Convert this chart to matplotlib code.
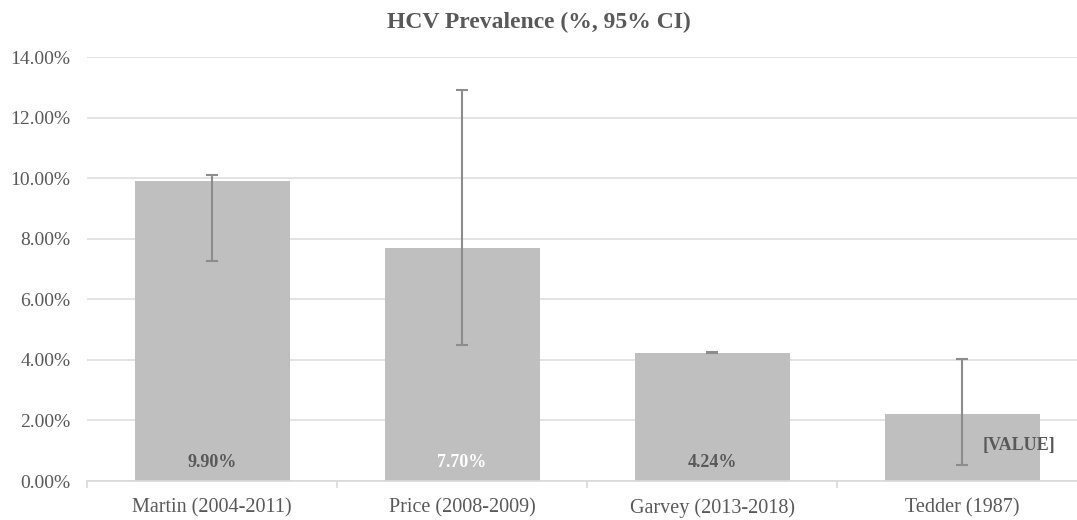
import matplotlib.pyplot as plt
import numpy as np

plt.rcParams['font.family'] = ['Liberation Serif', 'DejaVu Serif']

studies = ["Martin (2004-2011)", "Price (2008-2009)", "Garvey (2013-2018)", "Tedder (1987)"]
prevalence = [9.90, 7.70, 4.24, 2.20]
ci_low = [7.25, 4.50, 4.22, 0.52]
ci_high = [10.12, 12.90, 4.26, 4.02]
bar_labels = ["9.90%", "7.70%", "4.24%", "[VALUE]"]
label_colors = ["#595959", "#ffffff", "#595959", "#595959"]
yticks = [0, 2, 4, 6, 8, 10, 12, 14]

fig = plt.figure(figsize=(10.77, 5.2), dpi=100, facecolor='white')
ax = fig.add_axes([87 / 1077, 39 / 520, 1000 / 1077, 424 / 520])

x = np.arange(len(studies))
prev = np.array(prevalence)
yerr = [prev - np.array(ci_low), np.array(ci_high) - prev]

ax.bar(x, prev, width=0.62, color='#bfbfbf', zorder=2)
ax.errorbar(x, prev, yerr=yerr, fmt='none', ecolor='#8c8c8c', elinewidth=1.5,
            capsize=4.5, capthick=1.5, zorder=3)

for i, (lab, col) in enumerate(zip(bar_labels, label_colors)):
    if lab == "[VALUE]":
        ax.text(i + 0.23, 1.16, lab, ha='center', va='center', color=col,
                fontsize=13, fontweight='bold', zorder=4)
    else:
        ax.text(i, 0.62, lab, ha='center', va='center', color=col,
                fontsize=13, fontweight='bold', zorder=4)

ax.set_xlim(-0.5, len(studies) - 0.5)
ax.set_ylim(0, 14)
ax.set_yticks(yticks)
ax.set_yticklabels([f"{v:.2f}%" for v in yticks])
ax.set_xticks(x)
ax.set_xticklabels(studies)
ax.set_xticks(np.arange(len(studies) + 1) - 0.5, minor=True)

ax.yaxis.grid(True, color='#dedede', linewidth=1.2, zorder=0)
ax.set_axisbelow(True)
for s in ['top', 'right', 'left']:
    ax.spines[s].set_visible(False)
ax.spines['bottom'].set_color('#d9d9d9')
ax.spines['bottom'].set_linewidth(1.2)

ax.tick_params(axis='y', length=0, pad=12, labelsize=14, labelcolor='#595959')
ax.tick_params(axis='x', which='major', length=0, pad=12.5, labelsize=14.5, labelcolor='#595959')
ax.tick_params(axis='x', which='minor', length=5, color='#d9d9d9', width=1.2)

fig.text(0.5, 1 - 22 / 520, "HCV Prevalence (%, 95% CI)", ha='center', va='center',
         fontsize=17, fontweight='bold', color='#595959')

fig.savefig('out.png', dpi=100, facecolor='white')
